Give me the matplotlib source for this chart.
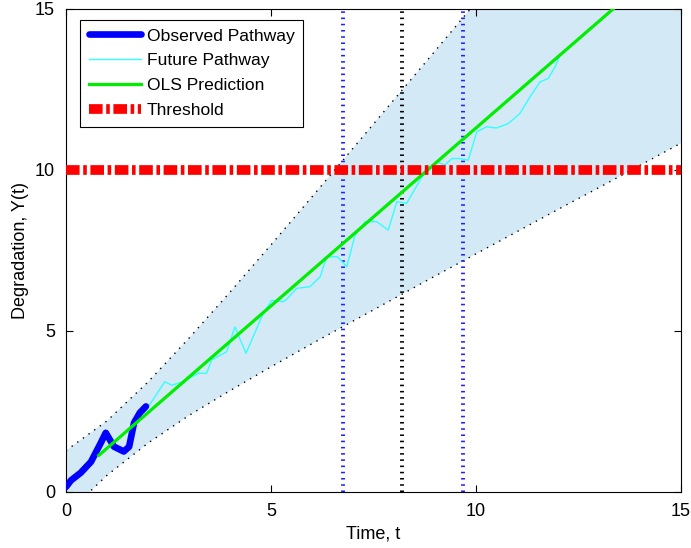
import matplotlib
matplotlib.use("Agg")
import matplotlib.pyplot as plt

plt.rcParams['font.family'] = ['Liberation Sans', 'DejaVu Sans']

# observed degradation path (thick blue)
obs_t = [0.0, 0.12, 0.36, 0.61, 0.85, 0.97, 1.17, 1.41, 1.54, 1.66, 1.80, 1.95]
obs_y = [0.15, 0.35, 0.59, 0.93, 1.52, 1.83, 1.40, 1.25, 1.40, 2.14, 2.45, 2.65]

# future path (thin cyan)
fut_t = [1.95, 2.01, 2.41, 2.58, 2.86, 3.23, 3.43, 3.55, 3.92, 4.12, 4.39, 4.81,
         5.02, 5.30, 5.40, 5.63, 5.95, 6.20, 6.36, 6.62, 6.85, 7.05, 7.29, 7.58,
         7.86, 8.07, 8.31, 8.68, 9.04, 9.24, 9.41, 9.61, 9.81, 10.02, 10.26,
         10.50, 10.79, 11.07, 11.32, 11.56, 11.76, 11.93, 12.03]
fut_y = [2.65, 2.64, 3.42, 3.31, 3.42, 3.68, 3.68, 4.09, 4.35, 5.12, 4.30, 5.54,
         5.95, 5.90, 6.00, 6.32, 6.37, 6.68, 7.30, 7.30, 6.99, 7.97, 8.39, 8.39,
         8.13, 9.01, 8.96, 9.78, 10.25, 10.15, 10.35, 10.35, 10.30, 11.18, 11.34,
         11.30, 11.44, 11.75, 12.27, 12.73, 12.84, 13.20, 13.51]

# OLS prediction line
ols_t = [0.8, 15.0]
ols_y = [1.13, 16.83]

# prediction band edges
band_t = [0, 1, 2, 3, 4, 5, 6, 7, 8, 9, 10, 11, 12, 13, 14, 15]
band_hi = [1.28, 2.20, 3.41, 4.77, 6.20, 7.67, 9.16, 10.67, 12.18, 13.69,
           15.21, 16.73, 18.25, 19.78, 21.30, 22.83]
band_lo = [-0.70, 0.51, 1.51, 2.37, 3.14, 3.88, 4.60, 5.30, 6.00, 6.70,
           7.39, 8.08, 8.77, 9.45, 10.14, 10.83]

threshold = 10
blue_vlines = [6.75, 9.69]
black_vline = 8.2

fig = plt.figure(figsize=(6.91, 5.48), dpi=100)
ax = fig.add_axes([0.0955, 0.1027, 0.89, 0.881])

ax.fill_between(band_t, band_lo, band_hi, color='#d3e9f6', lw=0, zorder=1)
ax.plot(band_t, band_hi, color='black', lw=1.0, ls=(0, (1, 4)), zorder=2)
ax.plot(band_t, band_lo, color='black', lw=1.0, ls=(0, (1, 4)), zorder=2)

vstyle = (0, (0.4, 1.2))
for v in blue_vlines:
    ax.axvline(v, color='#2020ff', lw=2.8, ls=vstyle, dash_capstyle='butt', zorder=3)
ax.axvline(black_vline, color='black', lw=2.8, ls=vstyle, dash_capstyle='butt', zorder=3)

l1, = ax.plot(obs_t, obs_y, color='#0000ff', lw=4.8, solid_capstyle='round',
              solid_joinstyle='round', zorder=5, label='Observed Pathway')
l2, = ax.plot(fut_t, fut_y, color='#33ffff', lw=1.0, zorder=4, label='Future Pathway')
l3, = ax.plot(ols_t, ols_y, color='#00ee00', lw=2.3, zorder=6, label='OLS Prediction')
l4 = ax.axhline(threshold, color='#ff0000', lw=7, ls=(0, (1.4, 0.37, 0.37, 0.37)),
                dash_capstyle='butt', zorder=7, label='Threshold')

ax.set_xlim(0, 15)
ax.set_ylim(0, 15)
ax.set_xticks([0, 5, 10, 15])
ax.set_yticks([0, 5, 10, 15])
ax.tick_params(direction='in', length=5, top=True, right=True, labelsize=13,
               pad=8)
ax.set_xlabel('Time, t', fontsize=13, labelpad=4)
ax.set_ylabel('Degradation, Y(t)', fontsize=13, labelpad=4)

leg = ax.legend(handles=[l1, l2, l3, l4], loc='upper left', fontsize=12.6,
                fancybox=False, edgecolor='black', framealpha=1,
                handlelength=3.0, handletextpad=0.3, labelspacing=0.55,
                borderpad=0.5, borderaxespad=0, bbox_to_anchor=(0.023, 0.978))
leg.get_frame().set_linewidth(0.8)
leg.set_zorder(10)

fig.savefig('out.png', dpi=100)
